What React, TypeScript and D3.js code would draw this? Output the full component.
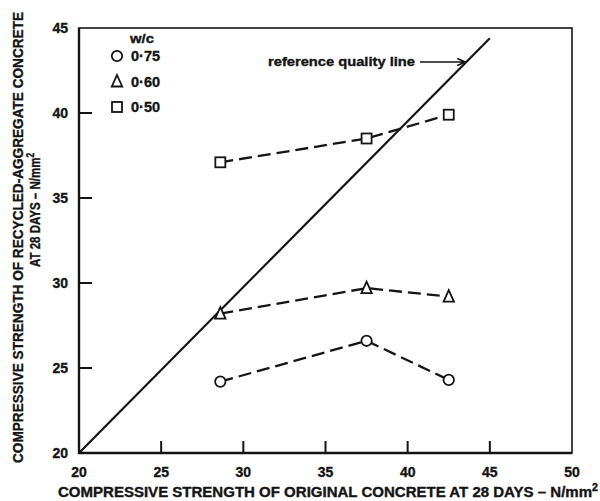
import React, { useEffect, useRef } from 'react';
import * as d3 from 'd3';

// strength of the original concrete at 28 days (N/mm2)
const originalStrength = [28.6, 37.5, 42.5];
// strength of the recycled-aggregate concrete at 28 days, one array per w/c ratio
const recycled075 = [24.2, 26.6, 24.3];
const recycled060 = [28.2, 29.7, 29.2];
const recycled050 = [37.1, 38.5, 39.9];

const wcLabels = ['0·75', '0·60', '0·50'];
const markerKinds = ['circle', 'triangle', 'square'];

const xTicks = [20, 25, 30, 35, 40, 45, 50];
const yTicks = [20, 25, 30, 35, 40, 45];

// reference quality line end points (original, recycled)
const refLineX = [20, 45];
const refLineY = [20, 44.4];

const WIDTH = 600;
const HEIGHT = 501;
const INK = '#141414';
const FONT = '"Liberation Sans", Arial, sans-serif';

const App: React.FC = () => {
  const svgRef = useRef<SVGSVGElement | null>(null);

  useEffect(() => {
    if (!svgRef.current) return;
    const svg = d3.select(svgRef.current);
    svg.selectAll('*').remove();

    const x = d3.scaleLinear().domain([20, 50]).range([79, 572]);
    const y = d3.scaleLinear().domain([20, 45]).range([453, 28]);

    const boldText = (sel: any, size: number) =>
      sel
        .attr('font-family', FONT)
        .attr('font-weight', 'bold')
        .attr('font-size', size)
        .attr('fill', INK)
        .attr('stroke', INK)
        .attr('stroke-width', 0.35);

    // frame
    svg
      .append('rect')
      .attr('x', x(20))
      .attr('y', y(45))
      .attr('width', x(50) - x(20))
      .attr('height', y(20) - y(45))
      .attr('fill', 'none')
      .attr('stroke', INK)
      .attr('stroke-width', 1.6);
    svg
      .append('path')
      .attr('d', `M${x(20)},${y(45)}V${y(20)}H${x(50)}`)
      .attr('fill', 'none')
      .attr('stroke', INK)
      .attr('stroke-width', 2.4);

    // inward ticks
    const yTickPath = yTicks
      .filter((t) => t > 20 && t < 45)
      .map((t) => `M${x(20)},${y(t)}h13`)
      .join('');
    const xTickPath = xTicks
      .filter((t) => t > 20 && t < 50)
      .map((t) => `M${x(t)},${y(20)}v-12`)
      .join('');
    svg
      .append('path')
      .attr('d', yTickPath + xTickPath)
      .attr('fill', 'none')
      .attr('stroke', INK)
      .attr('stroke-width', 2);

    // tick labels
    boldText(
      svg
        .append('g')
        .selectAll('text')
        .data(yTicks)
        .enter()
        .append('text')
        .attr('x', 68)
        .attr('y', (d) => y(d) + 5)
        .attr('text-anchor', 'end')
        .text((d) => d),
      14
    );

    boldText(
      svg
        .append('g')
        .selectAll('text')
        .data(xTicks)
        .enter()
        .append('text')
        .attr('x', (d) => x(d))
        .attr('y', 477)
        .attr('text-anchor', 'middle')
        .text((d) => d),
      14
    );

    // reference quality line
    const refPts: [number, number][] = refLineX.map((v, i) => [x(v), y(refLineY[i])]);
    svg
      .append('path')
      .attr('d', d3.line()(refPts)!)
      .attr('fill', 'none')
      .attr('stroke', INK)
      .attr('stroke-width', 2.2);

    const slope = (refLineY[1] - refLineY[0]) / (refLineX[1] - refLineX[0]);
    const arrowY = 62;
    const arrowX = x(refLineX[0] + (y.invert(arrowY) - refLineY[0]) / slope) - 1;
    boldText(
      svg
        .append('text')
        .attr('x', 268)
        .attr('y', arrowY + 4)
        .attr('textLength', 147)
        .attr('lengthAdjust', 'spacingAndGlyphs')
        .text('reference quality line'),
      13
    );
    svg
      .append('path')
      .attr('d', `M420,${arrowY}H${arrowX}M${arrowX - 8},${arrowY - 3.5}L${arrowX},${arrowY}L${arrowX - 8},${arrowY + 3.5}`)
      .attr('fill', 'none')
      .attr('stroke', INK)
      .attr('stroke-width', 1.6);

    // marker shapes
    const drawMarker = (g: any, kind: string) => {
      if (kind === 'circle') {
        g.append('circle').attr('r', 5.2);
      } else if (kind === 'triangle') {
        g.append('path').attr('d', 'M0,-6.5L5.2,5L-5.2,5Z');
      } else {
        g.append('rect').attr('x', -5).attr('y', -5).attr('width', 10).attr('height', 10);
      }
      g.selectAll('*').attr('fill', '#fff').attr('stroke', INK).attr('stroke-width', 1.8);
    };

    // data series
    const series = [recycled075, recycled060, recycled050];
    series.forEach((vals, si) => {
      const pts: [number, number][] = vals.map((v, i) => [x(originalStrength[i]), y(v)]);
      svg
        .append('path')
        .attr('d', d3.line()(pts)!)
        .attr('fill', 'none')
        .attr('stroke', INK)
        .attr('stroke-width', 2.3)
        .attr('stroke-dasharray', '13,6');
      pts.forEach((p) => {
        const g = svg.append('g').attr('transform', `translate(${p[0]},${p[1]})`);
        drawMarker(g, markerKinds[si]);
      });
    });

    // legend
    boldText(
      svg
        .append('text')
        .attr('x', 130)
        .attr('y', 43)
        .attr('textLength', 24)
        .attr('lengthAdjust', 'spacingAndGlyphs')
        .text('w/c'),
      12
    );
    wcLabels.forEach((label, i) => {
      const ly = 56 + i * 25.5;
      const g = svg.append('g').attr('transform', `translate(117,${ly})`);
      drawMarker(g, markerKinds[i]);
      boldText(
        svg
          .append('text')
          .attr('x', 131)
          .attr('y', ly + 5)
          .attr('textLength', 29)
          .attr('lengthAdjust', 'spacingAndGlyphs')
          .text(label),
        14
      );
    });

    // axis titles
    const xTitle = boldText(
      svg
        .append('text')
        .attr('x', 58)
        .attr('y', 497)
        .attr('textLength', 540)
        .attr('lengthAdjust', 'spacingAndGlyphs'),
      14
    );
    xTitle.append('tspan').text('COMPRESSIVE STRENGTH OF ORIGINAL CONCRETE AT 28 DAYS – N/mm');
    xTitle.append('tspan').attr('dy', -6).attr('font-size', 10).text('2');

    boldText(
      svg
        .append('text')
        .attr('transform', 'translate(23,463) rotate(-90)')
        .attr('textLength', 451)
        .attr('lengthAdjust', 'spacingAndGlyphs')
        .text('COMPRESSIVE STRENGTH OF RECYCLED-AGGREGATE CONCRETE'),
      14
    );
    const yTitle2 = boldText(
      svg
        .append('text')
        .attr('transform', 'translate(40,267) rotate(-90)')
        .attr('textLength', 114)
        .attr('lengthAdjust', 'spacingAndGlyphs'),
      14
    );
    yTitle2.append('tspan').text('AT 28 DAYS – N/mm');
    yTitle2.append('tspan').attr('dy', -6).attr('font-size', 10).text('2');
  }, []);

  return (
    <svg
      ref={svgRef}
      width={WIDTH}
      height={HEIGHT}
      style={{ position: 'absolute', left: 0, top: 0, background: '#fff' }}
    />
  );
};

export default App;
